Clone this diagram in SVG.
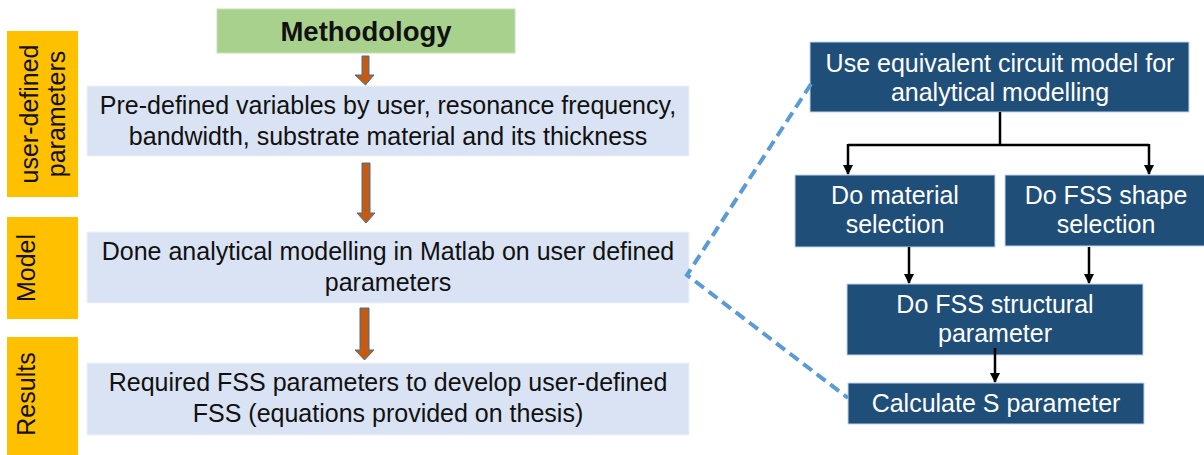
<svg xmlns="http://www.w3.org/2000/svg" width="1204" height="455" viewBox="0 0 1204 455">
  <defs>
    <marker id="head" viewBox="0 0 10 10" refX="9" refY="5" markerWidth="4" markerHeight="4" orient="auto" markerUnits="strokeWidth">
      <path d="M0,0 L10,5 L0,10 Z" fill="#000"/>
    </marker>
    <style>
      .phase { fill: #FFC000; }
      .step { fill: #DAE3F3; stroke: #EEF2FA; stroke-width: 1; }
      .task { fill: #1F4E79; stroke: #BDD7EE; stroke-width: 1; }
      .title { fill: #A9D18E; stroke: #C5E0B4; stroke-width: 1; }
      .flow { fill: #C55A11; stroke: #41719C; stroke-width: 1; }
      .link { fill: none; stroke: #000; stroke-width: 2.5; }
      .zoom { fill: none; stroke: #5B9BD5; stroke-width: 4; stroke-dasharray: 11 6; }
      text { font-family: "Liberation Sans", Arial, sans-serif; font-size: 25px; text-anchor: middle; }
      .dark { fill: #111; }
      .light { fill: #fff; }
      .bold { font-weight: bold; font-size: 27.5px; }
    </style>
  </defs>
  <rect width="1204" height="455" fill="#fff"/>

  <!-- phase labels on the left -->
  <g id="phase-params">
    <rect class="phase" x="7" y="31" width="71" height="166"/>
    <text class="dark" transform="translate(38,114) rotate(-90)">user-defined</text>
    <text class="dark" transform="translate(65,114) rotate(-90)">parameters</text>
  </g>
  <g id="phase-model">
    <rect class="phase" x="7" y="217" width="71" height="102"/>
    <text class="dark" transform="translate(35,268) rotate(-90)">Model</text>
  </g>
  <g id="phase-results">
    <rect class="phase" x="7" y="337" width="71" height="118"/>
    <text class="dark" transform="translate(35,394) rotate(-90)">Results</text>
  </g>

  <!-- main flow -->
  <g id="methodology">
    <rect class="title" x="217" y="9" width="298" height="44"/>
    <text class="dark bold" x="366" y="41">Methodology</text>
  </g>
  <g id="step-inputs">
    <rect class="step" x="87" y="86" width="602" height="70"/>
    <text class="dark" x="388" y="114">Pre-defined variables by user, resonance frequency,</text>
    <text class="dark" x="388" y="145">bandwidth, substrate material and its thickness</text>
  </g>
  <g id="step-model">
    <rect class="step" x="87" y="232" width="602" height="71"/>
    <text class="dark" x="388" y="260">Done analytical modelling in Matlab on user defined</text>
    <text class="dark" x="388" y="291">parameters</text>
  </g>
  <g id="step-results">
    <rect class="step" x="87" y="363" width="602" height="72"/>
    <text class="dark" x="388" y="391">Required FSS parameters to develop user-defined</text>
    <text class="dark" x="388" y="422">FSS (equations provided on thesis)</text>
  </g>

  <!-- detail of the model step -->
  <g id="task-circuit">
    <rect class="task" x="810" y="42" width="379" height="70"/>
    <text class="light" x="1000" y="72">Use equivalent circuit model for</text>
    <text class="light" x="1000" y="101">analytical modelling</text>
  </g>
  <g id="task-material">
    <rect class="task" x="795" y="175" width="200" height="72"/>
    <text class="light" x="895" y="204">Do material</text>
    <text class="light" x="895" y="233">selection</text>
  </g>
  <g id="task-shape">
    <rect class="task" x="1005" y="175" width="204" height="71"/>
    <text class="light" x="1106" y="204">Do FSS shape</text>
    <text class="light" x="1106" y="233">selection</text>
  </g>
  <g id="task-structure">
    <rect class="task" x="847" y="284" width="296" height="71"/>
    <text class="light" x="995" y="313">Do FSS structural</text>
    <text class="light" x="995" y="342">parameter</text>
  </g>
  <g id="task-sparam">
    <rect class="task" x="848" y="383" width="296" height="41"/>
    <text class="light" x="996" y="412">Calculate S parameter</text>
  </g>

  <!-- connectors -->
  <g id="connectors">
    <path class="flow" d="M362,56 H369 V75 H374 L365.5,85 L355,75 H362 Z"/>
    <path class="flow" d="M362,163 H370 V213 H375 L366,223 L357,213 H362 Z"/>
    <path class="flow" d="M360,308 H369 V350 H374 L364.5,360 L355,350 H360 Z"/>

    <path class="zoom" d="M811,84 L687,275 L848,398"/>

    <path class="link" d="M1000,112 V145"/>
    <path class="link" d="M848,145 H1149"/>
    <path class="link" d="M848,144 V174" marker-end="url(#head)"/>
    <path class="link" d="M1149,144 V174" marker-end="url(#head)"/>
    <path class="link" d="M909,247 V283" marker-end="url(#head)"/>
    <path class="link" d="M1089,247 V283" marker-end="url(#head)"/>
    <path class="link" d="M995,348 V382" marker-end="url(#head)"/>
  </g>
</svg>
